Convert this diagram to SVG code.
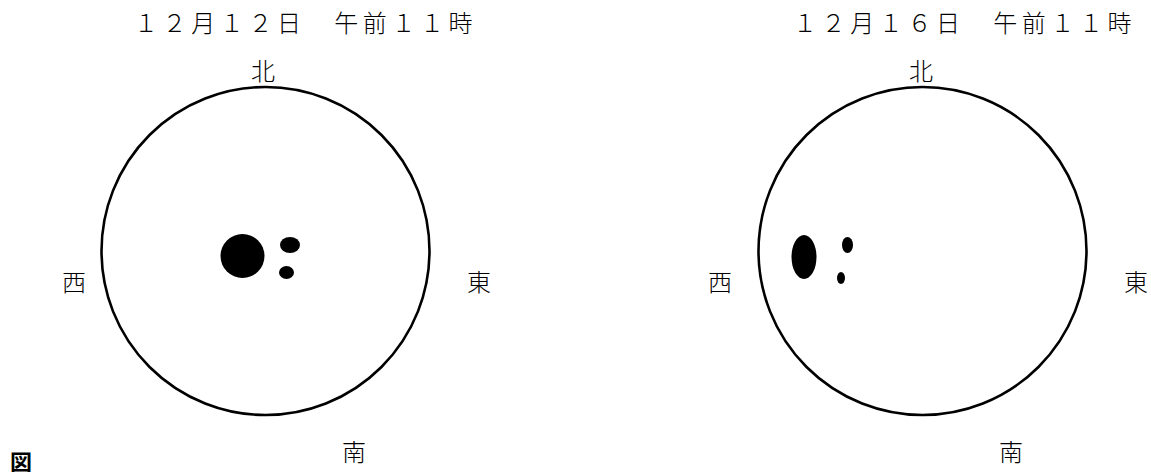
<svg xmlns="http://www.w3.org/2000/svg" width="1151" height="472" viewBox="0 0 1151 472">
<style>
.t{font-family:"Noto Sans CJK JP","Noto Sans",sans-serif;font-size:24px;font-weight:300;fill:#000}
.title{letter-spacing:4.6px}
.ring{fill:none;stroke:#000;stroke-width:2.6}
.spot{fill:#000}
</style>
<rect width="1151" height="472" fill="#fff"/>
<g id="left-diagram">
<text class="t title" x="134" y="32">１２月１２日　午前１１時</text>
<circle class="ring" cx="265.5" cy="251" r="164"/>
<text class="t" x="263" y="80" text-anchor="middle">北</text>
<text class="t" x="62" y="291">西</text>
<text class="t" x="467" y="291">東</text>
<text class="t" x="354" y="461" text-anchor="middle">南</text>
<circle class="spot" cx="242.5" cy="256" r="22"/>
<ellipse class="spot" cx="290" cy="245" rx="10" ry="8"/>
<ellipse class="spot" cx="286.5" cy="272.5" rx="7.5" ry="6.5"/>
</g>
<g id="right-diagram">
<text class="t title" x="793" y="32">１２月１６日　午前１１時</text>
<circle class="ring" cx="922.5" cy="251" r="164"/>
<text class="t" x="921" y="80" text-anchor="middle">北</text>
<text class="t" x="708" y="291">西</text>
<text class="t" x="1124" y="291">東</text>
<text class="t" x="1011" y="461" text-anchor="middle">南</text>
<ellipse class="spot" cx="804" cy="257" rx="12.5" ry="22"/>
<ellipse class="spot" cx="847.5" cy="245" rx="5.5" ry="8"/>
<ellipse class="spot" cx="841" cy="278" rx="4" ry="6"/>
</g>
<g id="caption">
<text x="10" y="470" style="font-family:'Noto Sans CJK JP',sans-serif;font-size:22px;font-weight:700">図</text>
</g>
<g id="connectors"/>
</svg>
